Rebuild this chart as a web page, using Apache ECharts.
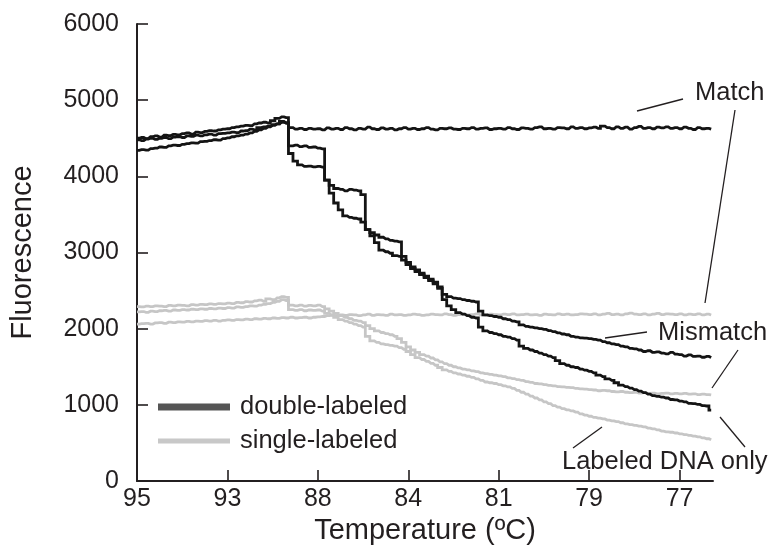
<!DOCTYPE html>
<html><head><meta charset="utf-8">
<script src="https://cdn.jsdelivr.net/npm/echarts@6/dist/echarts.min.js"></script>
<style>html,body{margin:0;padding:0;background:#fff}#c{width:772px;height:551px}</style>
</head><body><div id="c"></div>
<script>
// x positions in tick units (0 = 95 °C label, 6 = 77 °C label)
const xs = [0,0.05,0.1,0.15,0.2,0.25,0.3,0.35,0.4,0.45,0.5,0.55,0.6,0.65,0.7,0.75,0.8,0.85,0.9,0.95,
1,1.05,1.1,1.15,1.2,1.25,1.3,1.35,1.4,1.45,1.5,1.55,1.6,1.65,1.7,1.75,1.8,1.85,1.9,1.95,
2,2.05,2.1,2.15,2.2,2.25,2.3,2.35,2.4,2.45,2.5,2.55,2.6,2.65,2.7,2.75,2.8,2.85,2.9,2.95,
3,3.05,3.1,3.15,3.2,3.25,3.3,3.35,3.4,3.45,3.5,3.55,3.6,3.65,3.7,3.75,3.8,3.85,3.9,3.95,
4,4.05,4.1,4.15,4.2,4.25,4.3,4.35,4.4,4.45,4.5,4.55,4.6,4.65,4.7,4.75,4.8,4.85,4.9,4.95,
5,5.05,5.1,5.15,5.2,5.25,5.3,5.35,5.4,5.45,5.5,5.55,5.6,5.65,5.7,5.75,5.8,5.85,5.9,5.95,
6,6.05,6.1,6.15,6.2,6.25,6.3,6.35];
const tickLabels = ['95','93','88','84','81','79','77'];
const yTicks = [0,1000,2000,3000,4000,5000,6000];

// double-labeled
const dblMatch = [4480,4470,4490,4500,4485,4500,4510,4495,4515,4520,4510,4530,4525,4540,4530,4545,4555,4540,4560,4565,
4570,4580,4575,4595,4600,4620,4610,4640,4650,4660,4680,4690,4710,4700,4640,4620,4630,4615,4630,4620,
4625,4610,4635,4620,4630,4615,4640,4625,4610,4630,4620,4645,4625,4615,4635,4620,4630,4610,4625,4640,
4620,4630,4615,4625,4640,4620,4610,4630,4625,4635,4620,4615,4630,4625,4640,4620,4630,4635,4615,4625,
4630,4620,4640,4625,4615,4635,4630,4620,4640,4650,4625,4630,4620,4640,4635,4625,4650,4630,4640,4625,
4635,4645,4630,4660,4640,4625,4650,4630,4645,4620,4640,4655,4630,4640,4625,4645,4635,4650,4630,4640,
4625,4645,4630,4615,4640,4625,4630,4620];
const dblMismatch = [4500,4510,4495,4520,4530,4515,4540,4535,4550,4545,4560,4570,4555,4580,4575,4590,4600,4595,4610,4620,
4625,4640,4650,4660,4670,4665,4690,4700,4710,4700,4730,4760,4780,4770,4400,4410,4390,4400,4380,4385,
4370,4360,3950,3880,3840,3830,3810,3830,3820,3810,3760,3300,3260,3230,3200,3180,3160,3150,3140,2950,
2870,2810,2770,2730,2690,2650,2610,2550,2450,2420,2400,2395,2380,2370,2360,2350,2230,2180,2170,2160,
2150,2130,2120,2100,2090,2050,2030,2020,2010,2000,1990,1975,1960,1945,1930,1920,1900,1890,1880,1875,
1870,1860,1850,1830,1815,1800,1790,1770,1760,1740,1735,1720,1700,1710,1690,1695,1680,1670,1690,1665,
1660,1640,1655,1635,1640,1625,1635,1620];
const dblDnaOnly = [4340,4350,4345,4365,4370,4385,4380,4400,4410,4405,4420,4430,4440,4435,4455,4460,4470,4480,4475,4495,
4505,4520,4530,4540,4555,4570,4590,4610,4630,4650,4670,4690,4720,4700,4300,4200,4150,4130,4135,4125,
4130,4120,3950,3780,3650,3560,3480,3460,3450,3440,3400,3300,3220,3130,3030,3010,2990,2960,2950,2900,
2840,2790,2750,2710,2670,2630,2590,2530,2380,2300,2250,2210,2190,2170,2150,2140,2020,1970,1950,1935,
1920,1900,1890,1870,1850,1770,1740,1720,1700,1680,1660,1640,1620,1580,1540,1520,1500,1490,1470,1455,
1440,1420,1390,1370,1340,1320,1290,1260,1240,1220,1200,1180,1160,1140,1120,1110,1100,1090,1070,1065,
1050,1040,1020,1015,1005,990,985,930];

// single-labeled
const sglMatch = [2060,2065,2070,2060,2075,2080,2070,2085,2080,2090,2085,2095,2090,2100,2095,2105,2100,2110,2100,2110,
2115,2110,2120,2115,2125,2120,2130,2125,2135,2130,2140,2135,2145,2140,2150,2140,2145,2150,2140,2150,
2155,2160,2170,2175,2170,2180,2175,2185,2180,2170,2180,2190,2175,2185,2180,2175,2190,2180,2185,2175,
2180,2190,2185,2175,2180,2190,2185,2180,2195,2185,2175,2185,2190,2180,2185,2195,2180,2175,2190,2185,
2180,2190,2185,2195,2180,2185,2190,2180,2185,2175,2190,2185,2180,2195,2185,2190,2180,2185,2195,2190,
2185,2195,2180,2190,2200,2185,2190,2180,2195,2205,2190,2185,2195,2180,2190,2200,2185,2195,2190,2185,
2195,2180,2190,2185,2195,2180,2190,2180];
const sglMismatch = [2290,2285,2295,2290,2300,2295,2290,2305,2300,2310,2305,2300,2315,2310,2320,2315,2325,2320,2330,2325,
2335,2330,2345,2340,2355,2350,2365,2375,2360,2390,2380,2405,2420,2410,2310,2300,2310,2295,2305,2300,
2310,2290,2260,2230,2200,2170,2150,2130,2110,2100,2080,2040,2000,1970,1950,1935,1920,1900,1870,1820,
1760,1720,1690,1660,1640,1615,1590,1565,1540,1520,1500,1485,1470,1460,1445,1435,1420,1410,1400,1390,
1380,1370,1355,1345,1330,1320,1305,1295,1280,1275,1265,1255,1250,1240,1235,1230,1225,1215,1210,1205,
1200,1195,1185,1190,1185,1175,1170,1175,1165,1160,1165,1155,1160,1150,1155,1145,1150,1155,1145,1150,
1145,1150,1140,1145,1135,1140,1135,1130];
const sglDnaOnly = [2220,2225,2215,2230,2225,2235,2240,2230,2245,2240,2250,2245,2255,2250,2260,2255,2265,2260,2270,2265,
2275,2270,2285,2280,2290,2300,2295,2310,2320,2330,2345,2360,2380,2370,2250,2240,2250,2235,2245,2240,
2245,2230,2200,2180,2150,2120,2100,2080,2060,2040,2020,1900,1840,1820,1800,1790,1780,1770,1750,1730,
1700,1660,1620,1595,1570,1545,1520,1490,1460,1440,1420,1405,1390,1375,1360,1340,1320,1300,1290,1280,
1265,1250,1235,1215,1190,1165,1140,1115,1090,1065,1040,1015,990,970,950,935,920,905,880,865,
850,835,825,815,800,790,780,765,750,740,730,720,710,695,685,670,655,645,640,630,
620,610,600,590,580,565,555,540];

const FONT = "'Liberation Sans', Arial, Helvetica, sans-serif";
const TXT = '#231f20';
const BLACK = '#141414';
const GREY = '#c6c6c6';

function pairs(ys){ return xs.map((x,i)=>[x, ys[i]]); }
function line(name, ys, color){
  return {type:'line', name:name, data:pairs(ys), symbol:'none', animation:false, step:'middle',
    lineStyle:{color:color, width:2.8, join:'miter'}, silent:true};
}

const chart = echarts.init(document.getElementById('c'), null, {renderer:'canvas'});
chart.setOption({
  animation:false,
  textStyle:{fontFamily:FONT},
  grid:{left:135, right:59, top:24, bottom:70, containLabel:false},
  xAxis:{type:'value', min:0, max:6.37,
    name:'Temperature (ºC)', nameLocation:'middle', nameGap:25,
    nameTextStyle:{fontFamily:FONT, fontSize:29, color:TXT},
    axisLine:{lineStyle:{color:TXT, width:2}},
    axisTick:{inside:true, length:11, lineStyle:{color:TXT, width:1.6}, customValues:[1,2,3,4,5,6]},
    axisLabel:{customValues:[0,1,2,3,4,5,6], fontFamily:FONT, fontSize:25, color:TXT, margin:6,
      formatter:(v)=>tickLabels[Math.round(v)]},
    splitLine:{show:false}},
  yAxis:{type:'value', min:0, max:6000, interval:1000,
    name:'Fluorescence', nameLocation:'middle', nameGap:100, nameRotate:90,
    nameTextStyle:{fontFamily:FONT, fontSize:29, color:TXT},
    axisLine:{show:true, lineStyle:{color:TXT, width:2}},
    axisTick:{show:true, inside:true, length:11, lineStyle:{color:TXT, width:1.6}},
    axisLabel:{fontFamily:FONT, fontSize:25, color:TXT, margin:18,
      formatter:(v)=> yTicks.indexOf(v) >= 0 ? String(v) : ''},
    splitLine:{show:false}},
  series:[
    line('single-labeled match', sglMatch, GREY),
    line('single-labeled mismatch', sglMismatch, GREY),
    line('single-labeled DNA only', sglDnaOnly, GREY),
    line('double-labeled match', dblMatch, BLACK),
    line('double-labeled mismatch', dblMismatch, BLACK),
    line('double-labeled DNA only', dblDnaOnly, BLACK)
  ],
  graphic:[
    // legend
    {type:'line', shape:{x1:158,y1:407,x2:230,y2:407}, style:{stroke:'#555555', lineWidth:7}},
    {type:'text', x:240, y:407, style:{text:'double-labeled', font:'25.5px '+FONT, fill:TXT, verticalAlign:'middle'}},
    {type:'line', shape:{x1:158,y1:441,x2:230,y2:441}, style:{stroke:'#c8c8c8', lineWidth:5}},
    {type:'text', x:240, y:441, style:{text:'single-labeled', font:'25.5px '+FONT, fill:TXT, verticalAlign:'middle'}},
    // annotations
    {type:'text', x:695, y:93, style:{text:'Match', font:'25.5px '+FONT, fill:TXT, verticalAlign:'middle'}},
    {type:'line', shape:{x1:637,y1:111,x2:683,y2:99}, style:{stroke:TXT, lineWidth:1.3}},
    {type:'line', shape:{x1:735,y1:110,x2:705,y2:303}, style:{stroke:TXT, lineWidth:1.3}},
    {type:'text', x:658, y:333, style:{text:'Mismatch', font:'25.5px '+FONT, fill:TXT, verticalAlign:'middle'}},
    {type:'line', shape:{x1:605,y1:338,x2:647,y2:332}, style:{stroke:TXT, lineWidth:1.3}},
    {type:'line', shape:{x1:738,y1:350,x2:712,y2:388}, style:{stroke:TXT, lineWidth:1.3}},
    {type:'text', x:562, y:462, style:{text:'Labeled DNA only', font:'25.5px '+FONT, fill:TXT, verticalAlign:'middle'}},
    {type:'line', shape:{x1:573,y1:448,x2:602,y2:427}, style:{stroke:TXT, lineWidth:1.3}},
    {type:'line', shape:{x1:720,y1:417,x2:745,y2:447}, style:{stroke:TXT, lineWidth:1.3}}
  ]
});
</script>
</body></html>
